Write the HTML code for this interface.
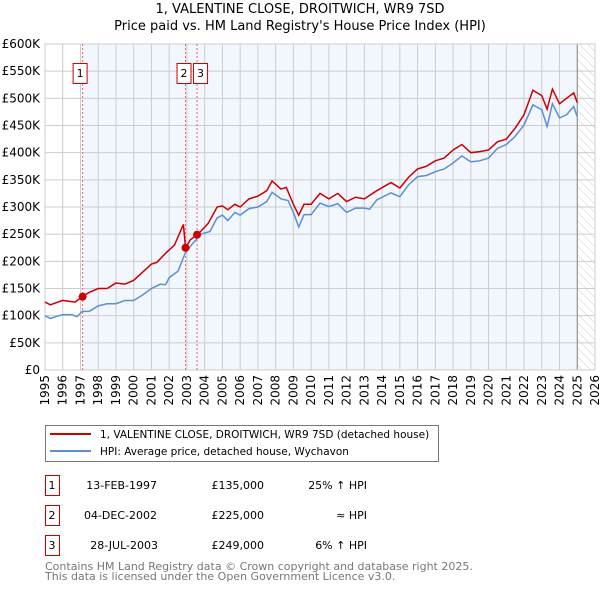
<!DOCTYPE html>
<html><head><meta charset="utf-8"><style>
body{margin:0;background:#fff;font-family:"DejaVu Sans","Liberation Sans",sans-serif;}
svg text{font-family:"DejaVu Sans","Liberation Sans",sans-serif;}
</style></head><body>
<svg id="c" width="600" height="590" xmlns="http://www.w3.org/2000/svg">
<defs><pattern id="hatch" width="6" height="6" patternUnits="userSpaceOnUse" patternTransform="rotate(-45)"><line x1="0" y1="0" x2="0" y2="6" stroke="#ccc" stroke-width="1"/></pattern></defs>
<text x="300" y="13" text-anchor="middle" font-size="13">1, VALENTINE CLOSE, DROITWICH, WR9 7SD</text>
<text x="300" y="30" text-anchor="middle" font-size="13">Price paid vs. HM Land Registry's House Price Index (HPI)</text>
<g id="plot"></g>
<g>
<rect x="45.5" y="425.5" width="393" height="36" fill="#fff" stroke="#777"/>
<line x1="50" y1="434" x2="91" y2="434" stroke="#cc0000" stroke-width="2"/>
<text x="100" y="438" font-size="10.5">1, VALENTINE CLOSE, DROITWICH, WR9 7SD (detached house)</text>
<line x1="50" y1="451" x2="91" y2="451" stroke="#5b8fd4" stroke-width="2"/>
<text x="100" y="455" font-size="10.5">HPI: Average price, detached house, Wychavon</text>
</g>
<g font-size="11">
<rect x="45.5" y="475.5" width="14" height="20" fill="none" stroke="#cc0000"/><text x="52" y="489" text-anchor="middle">1</text>
<text x="157" y="489" text-anchor="end">13-FEB-1997</text><text x="264" y="489" text-anchor="end">£135,000</text><text x="367" y="489" text-anchor="end">25% ↑ HPI</text>
<rect x="45.5" y="505.5" width="14" height="20" fill="none" stroke="#cc0000"/><text x="52" y="519" text-anchor="middle">2</text>
<text x="157" y="519" text-anchor="end">04-DEC-2002</text><text x="264" y="519" text-anchor="end">£225,000</text><text x="367" y="519" text-anchor="end">≈ HPI</text>
<rect x="45.5" y="535.5" width="14" height="20" fill="none" stroke="#cc0000"/><text x="52" y="549" text-anchor="middle">3</text>
<text x="158" y="549" text-anchor="end">28-JUL-2003</text><text x="264" y="549" text-anchor="end">£249,000</text><text x="367" y="549" text-anchor="end">6% ↑ HPI</text>
</g>
<text x="45" y="570" font-size="11" fill="#777">Contains HM Land Registry data © Crown copyright and database right 2025.</text>
<text x="45" y="580" font-size="11" fill="#777">This data is licensed under the Open Government Licence v3.0.</text>
</svg>
<script>
const yTicks=[0,50,100,150,200,250,300,350,400,450,500,550,600];
const yTickLabels=["£0","£50K","£100K","£150K","£200K","£250K","£300K","£350K","£400K","£450K","£500K","£550K","£600K"];
const xYears=[1995,1996,1997,1998,1999,2000,2001,2002,2003,2004,2005,2006,2007,2008,2009,2010,2011,2012,2013,2014,2015,2016,2017,2018,2019,2020,2021,2022,2023,2024,2025,2026];
const hpiT=[1995,1995.3,1996,1996.5,1996.8,1997.1,1997.5,1998,1998.5,1999,1999.5,2000,2000.5,2001,2001.5,2001.8,2002,2002.5,2002.9,2003.3,2003.8,2004.3,2004.7,2005,2005.3,2005.7,2006,2006.5,2007,2007.5,2007.8,2008.3,2008.7,2009,2009.3,2009.6,2010,2010.5,2011,2011.5,2012,2012.5,2013,2013.3,2013.7,2014.5,2015,2015.5,2016,2016.5,2017,2017.5,2018,2018.5,2019,2019.5,2020,2020.5,2021,2021.5,2022,2022.5,2023,2023.3,2023.6,2024,2024.4,2024.8,2025];
const hpiV=[100,95,102,102,98,108,108,118,122,122,128,128,138,150,158,157,170,182,215,232,250,255,280,285,275,290,285,297,300,310,327,315,312,290,263,286,286,307,301,306,290,298,298,296,313,326,319,341,356,358,365,370,381,394,383,385,390,408,415,430,451,488,479,448,490,464,470,485,466];
const priceT=[1995,1995.3,1996,1996.7,1997.1,1997.5,1998,1998.5,1999,1999.5,2000,2000.5,2001,2001.3,2001.8,2002.3,2002.8,2002.92,2003.2,2003.6,2004.2,2004.7,2005,2005.3,2005.7,2006,2006.5,2007,2007.5,2007.8,2008.3,2008.6,2009,2009.3,2009.6,2010,2010.5,2011,2011.5,2012,2012.5,2013,2013.7,2014.5,2015,2015.5,2016,2016.5,2017,2017.5,2018,2018.5,2019,2019.5,2020,2020.5,2021,2021.5,2022,2022.5,2023,2023.3,2023.6,2024,2024.4,2024.8,2025];
const priceV=[125,120,128,125,135,143,150,150,160,158,165,180,195,198,215,230,268,225,240,249,270,300,302,295,305,300,315,320,330,348,333,336,305,285,305,305,325,315,325,310,318,315,330,345,335,355,370,375,385,390,405,415,400,402,405,420,425,445,470,515,505,480,517,490,500,510,492];
const saleT=[1997.12,2002.92,2003.57];
const saleV=[135,225,249];
const saleLabels=["1","2","3"];
const NS="http://www.w3.org/2000/svg";
const X0=45,X1=595,Y0=370,Y1=44;
const xs=t=>X0+(t-1995)/(2026-1995)*(X1-X0);
const ys=v=>Y0-v/600*(Y0-Y1);
const g=document.getElementById('plot');
function mk(tag,a){const e=document.createElementNS(NS,tag);for(const k in a)e.setAttribute(k,a[k]);g.appendChild(e);return e;}
let e;
e=mk('rect',{x:xs(saleT[0]),y:Y1,width:xs(2025.0)-xs(saleT[0]),height:Y0-Y1,fill:'#f2f6fd'});


e=mk('rect',{x:xs(2025.0),y:Y1,width:X1-xs(2025.0),height:Y0-Y1,fill:'url(#hatch)'});


yTicks.forEach((v,i)=>{
 e=mk('line',{x1:X0,x2:X1,y1:ys(v),y2:ys(v),stroke:'#ccc'});
 
 
 e=mk('text',{x:40,y:ys(v)+4,'text-anchor':'end','font-size':'12'});e.textContent=yTickLabels[i];
 
 
});
xYears.forEach(y=>{
 e=mk('line',{x1:xs(y),x2:xs(y),y1:Y1,y2:Y0,stroke:'#ccc'});
 
 
 e=mk('text',{x:0,y:0,'text-anchor':'end','font-size':'12',transform:`translate(${xs(y)+4},375) rotate(-90)`});e.textContent=y;
 
 
});
e=mk('line',{x1:xs(2025.0),x2:xs(2025.0),y1:Y1,y2:Y0,stroke:'#888'});


e=mk('rect',{x:X0,y:Y1,width:X1-X0,height:Y0-Y1,fill:'none',stroke:'#ccc'});


saleT.forEach((t,i)=>{
 e=mk('line',{x1:xs(t),x2:xs(t),y1:Y1,y2:Y0,stroke:'#e66','stroke-dasharray':'2,2'});
 
 
});
e=mk('polyline',{points:hpiT.map((t,i)=>xs(t)+','+ys(hpiV[i])).join(' '),fill:'none',stroke:'#5b8fd4','stroke-width':1.5});


e=mk('polyline',{points:priceT.map((t,i)=>xs(t)+','+ys(priceV[i])).join(' '),fill:'none',stroke:'#cc0000','stroke-width':1.5});


saleT.forEach((t,i)=>{
 e=mk('circle',{cx:xs(t),cy:ys(saleV[i]),r:4,fill:'#cc0000'});
 
 
});
saleT.forEach((t,i)=>{
 const bx=i==0?xs(t)-10:(i==1?xs(t)-9:xs(t)-4);
 e=mk('rect',{x:bx+0.5,y:63.5,width:14,height:20,fill:'#fff',stroke:'#cc0000'});
 
 
 e=mk('text',{x:bx+7.5,y:77,'text-anchor':'middle','font-size':'11'});e.textContent=saleLabels[i];
 
 
});
</script>
</body></html>
